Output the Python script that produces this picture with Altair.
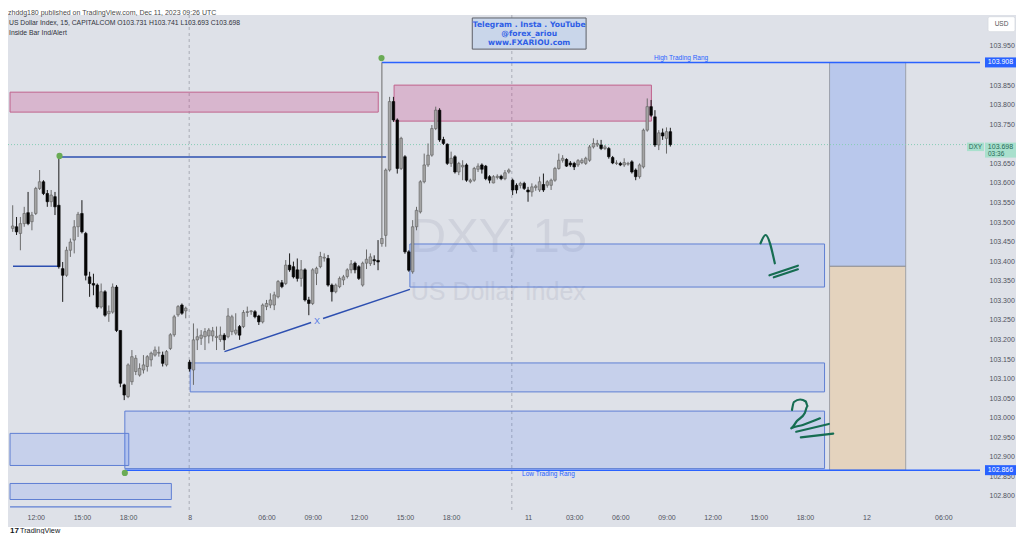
import altair as alt
import pandas as pd

# ---------------- data (15-minute bars, bar index 0 = Dec 7 12:00) ----------------
FIRST_BAR = -6
bar_open = [
    103.484, 103.488, 103.471, 103.496, 103.524, 103.501, 103.522, 103.586, 103.603, 103.573,
    103.552, 103.565, 103.543, 103.381, 103.364, 103.428, 103.454, 103.488, 103.522, 103.471,
    103.360, 103.343, 103.339, 103.283, 103.322, 103.266, 103.270, 103.334, 103.223, 103.084,
    103.054, 103.092, 103.118, 103.109, 103.122, 103.131, 103.148, 103.160, 103.165, 103.160,
    103.135, 103.177, 103.212, 103.263, 103.288, 103.273, 103.142, 103.122, 103.199, 103.203,
    103.207, 103.209, 103.209, 103.205, 103.200, 103.211, 103.207, 103.220, 103.216, 103.233,
    103.233, 103.269, 103.271, 103.271, 103.260, 103.245, 103.284, 103.288, 103.288, 103.309,
    103.345, 103.343, 103.390, 103.386, 103.378, 103.356, 103.378, 103.301, 103.292, 103.369,
    103.386, 103.408, 103.407, 103.339, 103.322, 103.335, 103.352, 103.361, 103.378, 103.395,
    103.386, 103.339, 103.395, 103.394, 103.404, 103.402, 103.445, 103.466, 103.633, 103.808,
    103.761, 103.637, 103.667, 103.424, 103.373, 103.488, 103.526, 103.603, 103.646, 103.671,
    103.739, 103.786, 103.711, 103.699, 103.650, 103.667, 103.628, 103.641, 103.646, 103.603,
    103.607, 103.635, 103.646, 103.643, 103.616, 103.600, 103.614, 103.617, 103.611, 103.628,
    103.607, 103.594, 103.594, 103.599, 103.582, 103.577, 103.588, 103.582, 103.596, 103.594,
    103.594, 103.607, 103.637, 103.658, 103.660, 103.651, 103.650, 103.646, 103.652, 103.650,
    103.658, 103.692, 103.697, 103.697, 103.688, 103.688, 103.665, 103.650, 103.650, 103.646,
    103.648, 103.654, 103.633, 103.616, 103.641, 103.735, 103.795, 103.769, 103.697, 103.728,
    103.714, 103.731,
]
bar_high = [
    103.543, 103.513, 103.513, 103.539, 103.577, 103.526, 103.590, 103.633, 103.607, 103.582,
    103.582, 103.577, 103.666, 103.398, 103.437, 103.458, 103.505, 103.526, 103.556, 103.475,
    103.373, 103.368, 103.343, 103.343, 103.326, 103.287, 103.343, 103.339, 103.223, 103.087,
    103.139, 103.173, 103.160, 103.139, 103.160, 103.160, 103.169, 103.182, 103.182, 103.169,
    103.173, 103.216, 103.263, 103.288, 103.292, 103.284, 103.148, 103.241, 103.228, 103.224,
    103.229, 103.229, 103.232, 103.233, 103.233, 103.216, 103.280, 103.263, 103.267, 103.237,
    103.275, 103.284, 103.275, 103.275, 103.263, 103.292, 103.301, 103.318, 103.322, 103.352,
    103.352, 103.403, 103.420, 103.399, 103.407, 103.403, 103.382, 103.309, 103.382, 103.386,
    103.424, 103.420, 103.416, 103.343, 103.343, 103.361, 103.365, 103.382, 103.403, 103.399,
    103.390, 103.399, 103.430, 103.420, 103.415, 103.454, 103.908, 103.637, 103.820, 103.820,
    103.765, 103.718, 103.671, 103.428, 103.505, 103.539, 103.607, 103.675, 103.701, 103.748,
    103.795, 103.791, 103.718, 103.701, 103.680, 103.671, 103.654, 103.658, 103.650, 103.611,
    103.641, 103.650, 103.650, 103.646, 103.620, 103.620, 103.622, 103.621, 103.633, 103.637,
    103.611, 103.599, 103.603, 103.603, 103.590, 103.599, 103.596, 103.616, 103.624, 103.607,
    103.611, 103.641, 103.675, 103.671, 103.663, 103.656, 103.654, 103.661, 103.663, 103.667,
    103.697, 103.714, 103.710, 103.710, 103.697, 103.692, 103.669, 103.658, 103.654, 103.663,
    103.654, 103.658, 103.637, 103.650, 103.739, 103.816, 103.812, 103.786, 103.735, 103.739,
    103.742, 103.741,
]
bar_low = [
    103.475, 103.467, 103.428, 103.488, 103.492, 103.479, 103.518, 103.582, 103.569, 103.539,
    103.539, 103.518, 103.381, 103.296, 103.360, 103.411, 103.420, 103.462, 103.471, 103.351,
    103.309, 103.313, 103.279, 103.279, 103.258, 103.245, 103.266, 103.219, 103.078, 103.045,
    103.050, 103.084, 103.109, 103.105, 103.113, 103.118, 103.131, 103.156, 103.156, 103.131,
    103.131, 103.173, 103.207, 103.258, 103.263, 103.254, 103.118, 103.084, 103.173, 103.186,
    103.173, 103.190, 103.195, 103.173, 103.194, 103.173, 103.203, 103.211, 103.211, 103.199,
    103.229, 103.258, 103.263, 103.254, 103.237, 103.241, 103.275, 103.280, 103.275, 103.305,
    103.331, 103.339, 103.373, 103.356, 103.348, 103.335, 103.297, 103.262, 103.288, 103.339,
    103.382, 103.399, 103.335, 103.297, 103.318, 103.331, 103.339, 103.356, 103.369, 103.369,
    103.352, 103.335, 103.380, 103.388, 103.390, 103.377, 103.437, 103.437, 103.629, 103.756,
    103.624, 103.633, 103.419, 103.373, 103.368, 103.479, 103.522, 103.599, 103.641, 103.667,
    103.735, 103.705, 103.697, 103.646, 103.641, 103.624, 103.620, 103.607, 103.603, 103.599,
    103.603, 103.628, 103.624, 103.607, 103.599, 103.599, 103.609, 103.607, 103.607, 103.624,
    103.569, 103.573, 103.586, 103.582, 103.552, 103.565, 103.580, 103.577, 103.577, 103.588,
    103.582, 103.603, 103.634, 103.652, 103.641, 103.641, 103.633, 103.641, 103.648, 103.646,
    103.654, 103.688, 103.692, 103.684, 103.684, 103.662, 103.648, 103.646, 103.643, 103.641,
    103.644, 103.624, 103.607, 103.611, 103.637, 103.731, 103.769, 103.692, 103.684, 103.710,
    103.675, 103.693,
]
bar_close = [
    103.490, 103.475, 103.496, 103.522, 103.496, 103.518, 103.586, 103.603, 103.573, 103.552,
    103.569, 103.539, 103.386, 103.364, 103.428, 103.449, 103.488, 103.520, 103.475, 103.364,
    103.343, 103.339, 103.283, 103.322, 103.262, 103.272, 103.334, 103.223, 103.088, 103.058,
    103.135, 103.156, 103.152, 103.126, 103.135, 103.156, 103.165, 103.173, 103.167, 103.139,
    103.169, 103.212, 103.258, 103.284, 103.267, 103.280, 103.125, 103.199, 103.207, 103.211,
    103.220, 103.224, 103.222, 103.208, 103.211, 103.199, 103.260, 103.258, 103.224, 103.211,
    103.269, 103.271, 103.273, 103.258, 103.245, 103.288, 103.292, 103.301, 103.314, 103.348,
    103.335, 103.390, 103.378, 103.360, 103.356, 103.378, 103.301, 103.292, 103.378, 103.382,
    103.412, 103.410, 103.339, 103.322, 103.339, 103.356, 103.360, 103.378, 103.393, 103.378,
    103.356, 103.395, 103.405, 103.411, 103.401, 103.398, 103.458, 103.633, 103.808, 103.761,
    103.637, 103.714, 103.424, 103.377, 103.488, 103.530, 103.603, 103.646, 103.671, 103.739,
    103.786, 103.710, 103.701, 103.650, 103.663, 103.628, 103.650, 103.645, 103.607, 103.607,
    103.637, 103.643, 103.635, 103.611, 103.607, 103.616, 103.617, 103.611, 103.626, 103.633,
    103.582, 103.582, 103.599, 103.586, 103.577, 103.590, 103.592, 103.603, 103.582, 103.603,
    103.607, 103.637, 103.658, 103.663, 103.643, 103.646, 103.641, 103.657, 103.658, 103.663,
    103.692, 103.701, 103.701, 103.688, 103.692, 103.667, 103.651, 103.651, 103.646, 103.652,
    103.650, 103.628, 103.616, 103.646, 103.735, 103.795, 103.773, 103.697, 103.728, 103.720,
    103.731, 103.698,
]

# axis ticks (103.700 and 103.900 sit under the price tags in the reference)
price_ticks = [102.80, 102.85, 102.90, 102.95, 103.00, 103.05, 103.10, 103.15, 103.20, 103.25,
               103.30, 103.35, 103.40, 103.45, 103.50, 103.55, 103.60, 103.65, 103.75,
               103.80, 103.85, 103.95]
time_tick_pos = [0, 12, 24, 40, 60, 72, 84, 96, 108, 128, 140, 152, 164, 176, 188, 200, 216, 236]
time_tick_labels = ["12:00", "15:00", "18:00", "8", "06:00", "09:00", "12:00", "15:00", "18:00",
                    "11", "03:00", "06:00", "09:00", "12:00", "15:00", "18:00", "12", "06:00"]
day_separators = [39.89, 123.79]

# drawings (bar index / price)
pink_x1 = [-6.69, 93.17]
pink_x2 = [89.05, 160.08]
pink_top = [103.832, 103.850]
pink_bottom = [103.781, 103.758]

blue_x1 = [97.28, 40.15, 23.16, -6.69, -6.69]
blue_x2 = [205.1, 205.1, 205.1, 24.19, 35.26]
blue_top = [103.444, 103.140, 103.017, 102.960, 102.832]
blue_bottom = [103.334, 103.066, 102.870, 102.878, 102.791]

high_range = 103.908
low_range = 102.866
last_price = 103.698
pos_x1, pos_x2, pos_mid = 206.4, 226.2, 103.387

X_MIN, X_MAX = -5.919, 245.52
Y_MIN, Y_MAX = 102.7642, 104.0292
W, H = 977, 495
PX = (Y_MAX - Y_MIN) / H  # price per pixel

xs = alt.Scale(domain=[X_MIN, X_MAX], nice=False, zero=False)
ys = alt.Scale(domain=[Y_MIN, Y_MAX], nice=False, zero=False)

FONT = "Liberation Sans"
AXIS_COLOR = "#50535e"

expr = " : ".join(f"datum.value == {p} ? '{l}'" for p, l in zip(time_tick_pos, time_tick_labels)) + " : ''"
x_axis = alt.Axis(orient="bottom", values=time_tick_pos, labelExpr=expr, ticks=False, tickSize=0,
                  domain=False, grid=False, labelPadding=7, labelBaseline="middle", labelFontSize=7,
                  labelColor=AXIS_COLOR, labelFont=FONT, labelOverlap=False, labelFlush=False, title=None)
y_axis = alt.Axis(orient="right", values=price_ticks, format=".3f", labelAlign="left", labelPadding=4,
                  labelBaseline="middle", ticks=False, tickSize=0, domain=False, grid=False,
                  labelFontSize=7, labelColor=AXIS_COLOR, labelFont=FONT, labelOverlap=False,
                  labelFlush=False, title=None)


def X(f):
    return alt.X(f, type="quantitative", scale=xs, axis=x_axis)


def Y(f):
    return alt.Y(f, type="quantitative", scale=ys, axis=y_axis)


bars = pd.DataFrame({
    "i": list(range(FIRST_BAR, FIRST_BAR + len(bar_open))),
    "o": bar_open, "h": bar_high, "l": bar_low, "c": bar_close,
})
up = bars[bars.c >= bars.o]
down = bars[bars.c < bars.o]

one = pd.DataFrame({"k": [0]})

# -------- chrome: header / footer strips --------
header_bg = alt.Chart(one).mark_rect(color="white", clip=False).encode(
    x=alt.value(0), x2=alt.value(1008), y=alt.value(-7), y2=alt.value(0))
footer_bg = alt.Chart(one).mark_rect(color="white", clip=False).encode(
    x=alt.value(0), x2=alt.value(1008), y=alt.value(512), y2=alt.value(524))

# -------- watermark --------
watermark1 = alt.Chart(pd.DataFrame({"t": ["DXY, 15"], "i": [97.5], "p": [103.462]})).mark_text(
    align="left", baseline="middle", font=FONT, fontSize=49, color="#cfd2dc", clip=True
).encode(x=X("i"), y=Y("p"), text="t:N")
watermark2 = alt.Chart(pd.DataFrame({"t": ["US Dollar Index"], "i": [97.5], "p": [103.3213]})).mark_text(
    align="left", baseline="middle", font=FONT, fontSize=25, color="#cfd2dc", clip=True
).encode(x=X("i"), y=Y("p"), text="t:N")

# -------- day separators --------
seps = alt.Chart(pd.DataFrame({"i": day_separators})).mark_rule(
    color="#a9acb6", strokeDash=[3, 3], strokeWidth=1
).encode(x=X("i"), y=alt.value(0), y2=alt.value(H))

# -------- boxes --------
pink = alt.Chart(pd.DataFrame({"x1": pink_x1, "x2": pink_x2, "t": pink_top, "b": pink_bottom})).mark_rect(
    fill="#c82878", fillOpacity=0.23, stroke="#c0628c", strokeWidth=1, clip=True
).encode(x=X("x1"), x2="x2:Q", y=Y("t"), y2="b:Q")
blue = alt.Chart(pd.DataFrame({"x1": blue_x1, "x2": blue_x2, "t": blue_top, "b": blue_bottom})).mark_rect(
    fill="#2962ff", fillOpacity=0.13, stroke="#5f7fd3", strokeWidth=1, clip=True
).encode(x=X("x1"), x2="x2:Q", y=Y("t"), y2="b:Q")
pos_target = alt.Chart(pd.DataFrame({"x1": [pos_x1], "x2": [pos_x2], "t": [high_range], "b": [pos_mid]})).mark_rect(
    fill="#2962ff", fillOpacity=0.2, stroke="#8f939c", strokeWidth=0.8, clip=True
).encode(x=X("x1"), x2="x2:Q", y=Y("t"), y2="b:Q")
pos_stop = alt.Chart(pd.DataFrame({"x1": [pos_x1], "x2": [pos_x2], "t": [pos_mid], "b": [low_range]})).mark_rect(
    fill="#ff9800", fillOpacity=0.18, stroke="#8f939c", strokeWidth=0.8, clip=True
).encode(x=X("x1"), x2="x2:Q", y=Y("t"), y2="b:Q")

# current price dotted line
cur_line = alt.Chart(pd.DataFrame({"p": [last_price]})).mark_rule(
    color="#86cdb6", strokeDash=[1, 2], strokeWidth=1
).encode(y=Y("p"), x=alt.value(0), x2=alt.value(W))

# -------- lines --------
range_lines = alt.Chart(pd.DataFrame({
    "x1": [90.0, 23.16], "y1": [high_range, low_range], "x2": [X_MAX, X_MAX], "y2": [high_range, low_range]
})).mark_rule(strokeWidth=1.5, color="#2962ff", clip=True).encode(x=X("x1"), y=Y("y1"), x2="x2:Q", y2="y2:Q")
dark_lines = alt.Chart(pd.DataFrame({
    "x1": [6.18, X_MIN, 49.07, 74.7], "y1": [103.666, 103.387, 103.169, 103.2535],
    "x2": [91.1, 6.18, 71.6, 97.28], "y2": [103.666, 103.387, 103.2433, 103.328],
})).mark_rule(strokeWidth=1.5, color="#2d4fb0", clip=True).encode(x=X("x1"), y=Y("y1"), x2="x2:Q", y2="y2:Q")
box_line = alt.Chart(pd.DataFrame({"x1": [-6.69], "y1": [102.772], "x2": [35.26], "y2": [102.772]})).mark_rule(
    strokeWidth=1.2, color="#5f7fd3", clip=True).encode(x=X("x1"), y=Y("y1"), x2="x2:Q", y2="y2:Q")

# -------- candles --------
wicks_up = alt.Chart(up).mark_rule(strokeWidth=1, color="#6b6b6b", clip=True).encode(
    x=X("i"), y=Y("l"), y2="h:Q")
wicks_down = alt.Chart(down).mark_rule(strokeWidth=1, color="#1a1a1a", clip=True).encode(
    x=X("i"), y=Y("l"), y2="h:Q")
bodies_up = alt.Chart(up).mark_bar(size=2.6, strokeWidth=0.6, fill="#a4a4a4", stroke="#5e5e5e", clip=True).encode(
    x=X("i"), y=Y("o"), y2="c:Q")
bodies_down = alt.Chart(down).mark_bar(size=2.6, strokeWidth=0.6, fill="#050505", stroke="#050505", clip=True).encode(
    x=X("i"), y=Y("o"), y2="c:Q")

# -------- markers & labels --------
dots = alt.Chart(pd.DataFrame({"i": [6.18, 89.9, 23.16], "p": [103.669, 103.919, 102.859]})).mark_circle(
    size=38, color="#6aab55", opacity=1, clip=True).encode(x=X("i"), y=Y("p"))

range_labels = alt.Chart(pd.DataFrame({"t": ["High Trading Rang", "Low Trading Rang"],
                                        "i": [167.8, 133.3], "p": [103.919, 102.856]})).mark_text(
    font=FONT, fontSize=6.5, color="#2962ff", baseline="middle", align="center"
).encode(x=X("i"), y=Y("p"), text="t:N")
x_label = alt.Chart(pd.DataFrame({"t": ["X"], "i": [73.1], "p": [103.248]})).mark_text(
    font=FONT, fontSize=9, color="#5a7fe6", baseline="middle", align="center"
).encode(x=X("i"), y=Y("p"), text="t:N")

# handwritten strokes
stroke_id = ["a"] * 3 + ["b"] * 2 + ["c"] * 2 + ["d"] * 10 + ["e"] * 2 + ["f"] * 2
stroke_i = [188.46, 189.75, 192.17, 190.78, 198.17, 191.91, 198.17,
            196.63, 197.14, 198.76, 200.22, 200.66, 199.97, 197.91, 196.44, 199.45, 203.91,
            197.73, 206.22, 198.94, 207.35]
stroke_p = [103.4458, 103.4670, 103.3947, 103.3640, 103.3885, 103.3589, 103.3793,
            103.0198, 103.0402, 103.0466, 103.0415, 103.0300, 103.0121, 102.9917, 102.9730, 102.9814, 102.9985,
            102.9643, 102.9840, 102.9500, 102.9592]
strokes = pd.DataFrame({"s": stroke_id, "i": stroke_i, "p": stroke_p, "n": list(range(len(stroke_i)))})
hand = alt.Chart(strokes).mark_line(color="#166d52", strokeWidth=2.2, strokeCap="round",
                                    strokeJoin="round", interpolate="monotone").encode(
    x=X("i"), y=Y("p"), detail="s:N", order="n:Q")

# telegram note
note_box = alt.Chart(pd.DataFrame({"x1": [113.5], "x2": [143.1], "t": [104.0216], "b": [103.942]})).mark_rect(
    fill="#c9d6ea", stroke="#5d6068", strokeWidth=1).encode(x=X("x1"), x2="x2:Q", y=Y("t"), y2="b:Q")
note_text = alt.Chart(pd.DataFrame({
    "t": ["Telegram . Insta . YouTube", "@forex_ariou", "www.FXARIOU.com"],
    "i": [128.3, 128.3, 128.3], "p": [104.0037, 103.9807, 103.9577]})).mark_text(
    font="DejaVu Sans", fontSize=7.6, fontWeight="bold", color="#2f5ee6", baseline="middle", align="center"
).encode(x=X("i"), y=Y("p"), text="t:N")

# -------- price scale tags --------
tags = pd.DataFrame({"p": [high_range, low_range], "t": ["103.908", "102.866"]})
tags["t1"] = tags.p + 5 * PX
tags["t2"] = tags.p - 5 * PX
tag_box = alt.Chart(tags).mark_rect(fill="#2962ff", clip=False).encode(
    x=alt.value(977), x2=alt.value(1008), y=Y("t1"), y2="t2:Q")
tag_txt = alt.Chart(tags).mark_text(font=FONT, fontSize=7, color="white", baseline="middle", clip=False).encode(
    x=alt.value(992.5), y=Y("p"), text="t:N")

cur = pd.DataFrame({"p": [last_price]})
cur["top"] = cur.p + 2 * PX
cur["dxy_b"] = cur.p - 6.5 * PX
cur["box_b"] = cur.p - 13 * PX
cur["l1"] = cur.p - 2 * PX
cur["l2"] = cur.p - 9 * PX
cur["name"] = "DXY"
cur["v"] = "103.698"
cur["cd"] = "03:36"
dxy_box = alt.Chart(cur).mark_rect(fill="#a9e0cd", clip=False).encode(
    x=alt.value(959), x2=alt.value(976), y=Y("top"), y2="dxy_b:Q")
val_box = alt.Chart(cur).mark_rect(fill="#a9e0cd", clip=False).encode(
    x=alt.value(977), x2=alt.value(1008), y=Y("top"), y2="box_b:Q")
dxy_txt = alt.Chart(cur).mark_text(font=FONT, fontSize=6.5, color="#256a58", baseline="middle", clip=False).encode(
    x=alt.value(967.5), y=Y("l1"), text="name:N")
val_txt = alt.Chart(cur).mark_text(font=FONT, fontSize=7, color="#256a58", baseline="middle", clip=False).encode(
    x=alt.value(992.5), y=Y("l1"), text="v:N")
cd_txt = alt.Chart(cur).mark_text(font=FONT, fontSize=6.5, color="#256a58", baseline="middle",
                                  align="left", clip=False).encode(
    x=alt.value(980), y=Y("l2"), text="cd:N")

usd_box = alt.Chart(one).mark_rect(fill="#ffffff", stroke="#d6d9e0", strokeWidth=0.8, cornerRadius=2,
                                   clip=False).encode(
    x=alt.value(980), x2=alt.value(1007), y=alt.value(1.7), y2=alt.value(16.7))
usd_txt = alt.Chart(pd.DataFrame({"t": ["USD"]})).mark_text(
    font=FONT, fontSize=6.5, color="#555", baseline="middle", clip=False).encode(
    x=alt.value(993.5), y=alt.value(9.2), text="t:N")


# -------- header / legend / footer texts --------
def pixel_text(txt, x, y, size, color, weight="normal"):
    return alt.Chart(pd.DataFrame({"t": [txt]})).mark_text(
        font=FONT, fontSize=size, color=color, align="left", baseline="middle", fontWeight=weight, clip=False
    ).encode(x=alt.value(x), y=alt.value(y), text="t:N")


header_txt = pixel_text("zhddg180 published on TradingView.com, Dec 11, 2023 09:26 UTC", 0, -2.4, 7.0, "#4a4a4a")
legend1 = pixel_text("US Dollar Index, 15, CAPITALCOM  O103.731  H103.741  L103.693  C103.698", 1, 8, 6.8, "#30333c")
legend2 = pixel_text("Inside Bar Ind/Alert", 1, 18, 6.8, "#30333c")
footer_logo = pixel_text("17", 2, 515.5, 8, "#131722", "bold")
footer_txt = pixel_text("TradingView", 12, 515.5, 7.3, "#131722")

chart = alt.layer(
    header_bg, footer_bg, watermark1, watermark2, seps, pink, blue, pos_target, pos_stop, cur_line,
    range_lines, dark_lines, box_line,
    wicks_up, wicks_down, bodies_up, bodies_down, dots, range_labels, x_label, hand, note_box, note_text,
    tag_box, tag_txt, dxy_box, val_box, dxy_txt, val_txt, cd_txt, usd_box, usd_txt,
    header_txt, legend1, legend2, footer_logo, footer_txt,
).properties(
    width=W, height=H,
    padding={"left": 0, "top": 7, "right": 31, "bottom": 24},
    autosize=alt.AutoSizeParams(type="none"),
    background="#dee1e8",
).configure_view(stroke=None)

chart.save("out.html", embed_options={"renderer": "svg", "actions": False})
